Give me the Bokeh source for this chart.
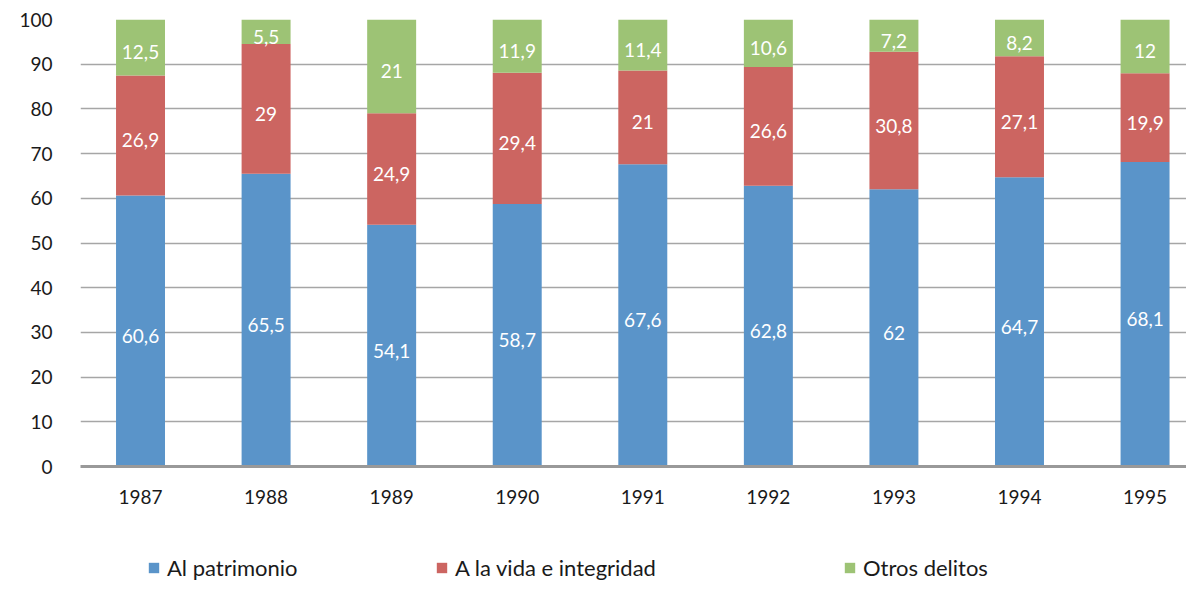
import numpy as np
from bokeh.plotting import figure
from bokeh.layouts import column
from bokeh.models import (ColumnDataSource, Range1d, FixedTicker, Legend, LegendItem)
from bokeh.core.properties import value
from bokeh.embed import file_html
from bokeh.resources import INLINE

years = ["1987", "1988", "1989", "1990", "1991", "1992", "1993", "1994", "1995"]
patrimonio = [60.6, 65.5, 54.1, 58.7, 67.6, 62.8, 62.0, 64.7, 68.1]
vida = [26.9, 29.0, 24.9, 29.4, 21.0, 26.6, 30.8, 27.1, 19.9]
otros = [12.5, 5.5, 21.0, 11.9, 11.4, 10.6, 7.2, 8.2, 12.0]
series_names = ["Al patrimonio", "A la vida e integridad", "Otros delitos"]
series_keys = ["patrimonio", "vida", "otros"]
colors = ["#5A94C9", "#CC6561", "#9DC375"]

FONT = "Lato"
TXT = "#1a1a1a"
W = 1186

x = list(range(len(years)))
src = ColumnDataSource(dict(x=x, patrimonio=patrimonio, vida=vida, otros=otros))

p = figure(width=W, height=540, output_backend="svg", toolbar_location=None,
           x_range=Range1d(-0.478, 8.33), y_range=Range1d(0, 100),
           min_border_left=80, min_border_right=0, min_border_top=19,
           min_border_bottom=74)
p.outline_line_color = None
p.background_fill_color = "white"
p.border_fill_color = "white"

rs = p.vbar_stack(series_keys, x="x", width=0.39,
                  color=colors, line_color=None, source=src)

# labels centered in segments
vals = np.array([patrimonio, vida, otros])
tops = np.cumsum(vals, axis=0)
bottoms = tops - vals
lx, ly, lt = [], [], []
for s in range(vals.shape[0]):
    for i in range(len(years)):
        v = vals[s, i]
        lx.append(x[i])
        ly.append((tops[s, i] + bottoms[s, i]) / 2)
        lt.append(f"{v:g}".replace(".", ","))
lsrc = ColumnDataSource(dict(x=lx, y=ly, t=lt))
p.text(x="x", y="y", text="t", source=lsrc, text_color="white",
       text_font=value(FONT), text_font_size="19px", text_align="center",
       text_baseline="middle", y_offset=5)

# axes
p.xaxis.ticker = FixedTicker(ticks=x)
p.xaxis.major_label_overrides = {i: y for i, y in enumerate(years)}
p.xaxis.axis_line_color = "#999999"
p.xaxis.axis_line_width = 3
p.xaxis.major_tick_line_color = None
p.xaxis.minor_tick_line_color = None
p.xaxis.major_tick_out = 0
p.xaxis.major_tick_in = 0
p.xaxis.major_label_standoff = 23
p.xaxis.major_label_text_font = FONT
p.xaxis.major_label_text_font_size = "19px"
p.xaxis.major_label_text_color = TXT

p.yaxis.ticker = FixedTicker(ticks=list(range(0, 101, 10)))
p.yaxis.axis_line_color = None
p.yaxis.major_tick_line_color = None
p.yaxis.minor_tick_line_color = None
p.yaxis.major_tick_out = 0
p.yaxis.major_tick_in = 0
p.yaxis.major_label_standoff = 28
p.yaxis.major_label_text_font = FONT
p.yaxis.major_label_text_font_size = "19px"
p.yaxis.major_label_text_color = TXT

p.xgrid.grid_line_color = None
p.ygrid.grid_line_color = "#A6A6A6"
p.ygrid.grid_line_width = 1.5

# legend strip below the chart (its frame is aligned with the chart's frame)
p2 = figure(width=W, height=41, output_backend="svg", toolbar_location=None,
            x_range=Range1d(100, 101), y_range=Range1d(1000, 1001),
            min_border_left=0, min_border_right=0, min_border_top=0,
            min_border_bottom=0)
p2.axis.visible = False
p2.grid.visible = False
p2.outline_line_color = None
lg_pos = [67, 355, 763]  # offsets from the chart frame's left edge
for c, key, name, xp in zip(colors, series_keys, series_names, lg_pos):
    # zero-height bars outside the visible range: only used for the legend swatch
    r = p2.vbar(x="x", top=key, bottom=key, width=0.39, fill_color=c,
                line_color=None, source=src)
    lg = Legend(items=[LegendItem(label=name, renderers=[r])],
                location=(xp, 0), orientation="horizontal",
                border_line_color=None, background_fill_alpha=0,
                padding=0, margin=0, glyph_width=13, glyph_height=13,
                label_standoff=7, label_text_font=FONT,
                label_text_font_size="22px", label_text_color=TXT)
    p2.add_layout(lg, "center")

layout = column(p, p2, spacing=0)
open("out.html", "w").write(file_html(layout, INLINE))
